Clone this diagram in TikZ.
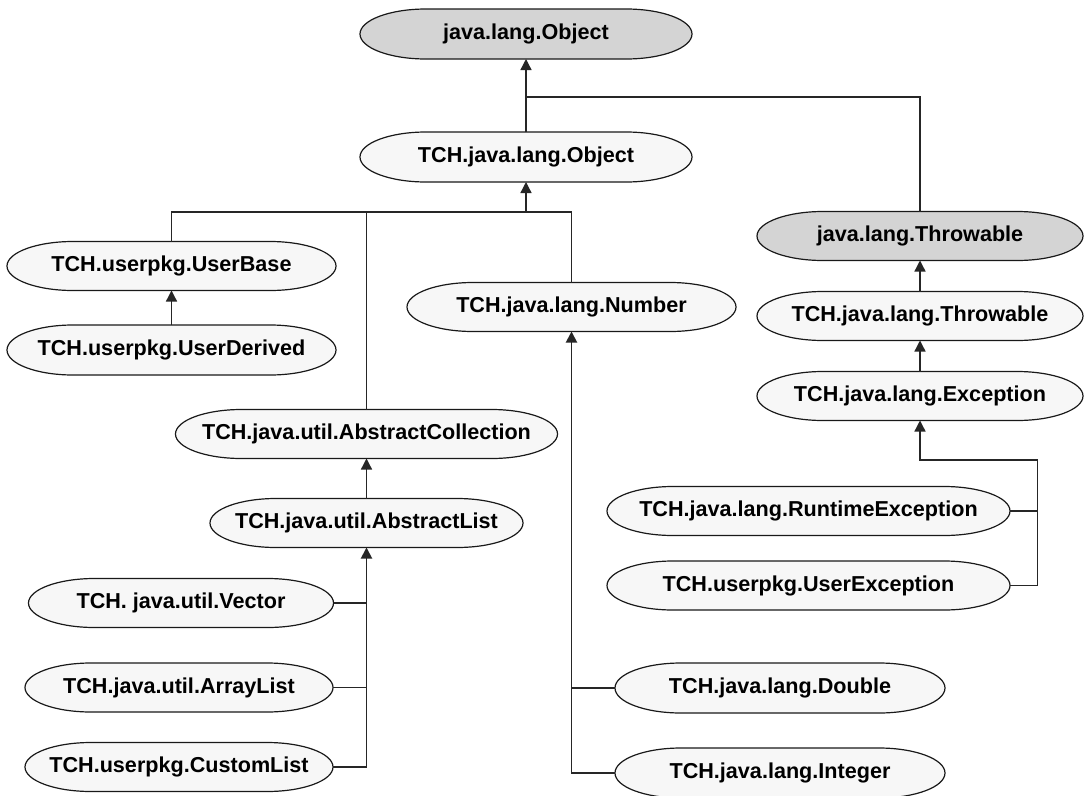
\documentclass[tikz,border=0pt]{standalone}
\usepackage{fontspec}
\setmainfont{Liberation Sans}
\usetikzlibrary{arrows.meta}

% A flat capsule: straight top and bottom edges with half-elliptical ends.
\makeatletter
\def\stadiumrx{66pt}
\pgfdeclareshape{stadium}{%
  \inheritsavedanchors[from=rectangle]%
  \inheritanchorborder[from=rectangle]%
  \inheritanchor[from=rectangle]{center}%
  \inheritanchor[from=rectangle]{north}%
  \inheritanchor[from=rectangle]{south}%
  \inheritanchor[from=rectangle]{east}%
  \inheritanchor[from=rectangle]{west}%
  \inheritanchor[from=rectangle]{north east}%
  \inheritanchor[from=rectangle]{north west}%
  \inheritanchor[from=rectangle]{south east}%
  \inheritanchor[from=rectangle]{south west}%
  \inheritanchor[from=rectangle]{text}%
  \inheritanchor[from=rectangle]{base}%
  \inheritanchor[from=rectangle]{mid}%
  \backgroundpath{%
    \southwest \edef\st@xa{\the\pgf@x}\edef\st@ya{\the\pgf@y}%
    \northeast \edef\st@xb{\the\pgf@x}\edef\st@yb{\the\pgf@y}%
    \pgf@yc=\st@yb\relax \advance\pgf@yc by -\st@ya\relax \pgf@yc=.5\pgf@yc
    \edef\st@ry{\the\pgf@yc}%
    \pgf@xc=\st@xa\relax \advance\pgf@xc by \stadiumrx\relax \edef\st@xl{\the\pgf@xc}%
    \pgf@xc=\st@xb\relax \advance\pgf@xc by -\stadiumrx\relax \edef\st@xr{\the\pgf@xc}%
    \pgfpathmoveto{\pgfqpoint{\st@xl}{\st@yb}}%
    \pgfpathlineto{\pgfqpoint{\st@xr}{\st@yb}}%
    \pgfpatharc{90}{-90}{\stadiumrx and \st@ry}%
    \pgfpathlineto{\pgfqpoint{\st@xl}{\st@ya}}%
    \pgfpatharc{270}{90}{\stadiumrx and \st@ry}%
    \pgfpathclose
  }%
}
\makeatother

\definecolor{basefill}{HTML}{D4D4D4}
\definecolor{tchfill}{HTML}{F7F7F7}
\definecolor{wire}{HTML}{262626}

\begin{document}
\begin{tikzpicture}[x=1pt,y=-1pt,
  cls/.style={shape=stadium, draw=black!90, line width=1.2pt, fill=tchfill,
    inner sep=0pt, outer sep=0pt, minimum height=49pt,
    font=\bfseries\fontsize{21.6}{24}\selectfont},
  jdk/.style={cls, fill=basefill},
  link/.style={draw=wire, line width=1.3pt},
  inh/.style={link, -{Triangle[width=11pt,length=11pt]}},
  trunk/.style={inh, line width=1.9pt},
]
\useasboundingbox (0,0) rectangle (1084,795);
\fill[white] (0,0) rectangle (1084,795);

% --- classes ---
\node[jdk, minimum width=332pt, minimum height=50pt] (jlo)  at (526,34)    {java.lang.Object};
\node[cls, minimum width=332pt, minimum height=50pt] (tjlo) at (526,157)   {TCH.java.lang.Object};
\node[jdk, minimum width=326pt] (jlt)   at (920,236)   {java.lang.Throwable};
\node[cls, minimum width=326pt] (tjlt)  at (920,316)   {TCH.java.lang.Throwable};
\node[cls, minimum width=326pt] (tjle)  at (920,396)   {TCH.java.lang.Exception};
\node[cls, minimum width=329pt] (ub)    at (171.5,266) {TCH.userpkg.UserBase};
\node[cls, minimum width=329pt, minimum height=50pt] (ud) at (171.5,350) {TCH.userpkg.UserDerived};
\node[cls, minimum width=329pt] (num)   at (571.5,307) {TCH.java.lang.Number};
\node[cls, minimum width=382pt] (acoll) at (366.5,434) {TCH.java.util.AbstractCollection};
\node[cls, minimum width=313pt] (alist) at (366.5,523) {TCH.java.util.AbstractList};
\node[cls, minimum width=403pt] (rte)   at (808.5,511) {TCH.java.lang.RuntimeException};
\node[cls, minimum width=403pt] (uex)   at (808.5,585.5) {TCH.userpkg.UserException};
\node[cls, minimum width=305pt] (vec)   at (181,603)   {TCH. java.util.Vector};
\node[cls, minimum width=308pt] (arr)   at (179,687.5) {TCH.java.util.ArrayList};
\node[cls, minimum width=308pt] (cust)  at (179,767)   {TCH.userpkg.CustomList};
\node[cls, minimum width=330pt, minimum height=50pt] (dbl) at (780,688) {TCH.java.lang.Double};
\node[cls, minimum width=330pt, minimum height=50pt] (int) at (780,773) {TCH.java.lang.Integer};

% --- junction points of the shared connectors ---
\coordinate (objbus) at (526,97);
\coordinate (tchbus) at (526,212);
\coordinate (excbus) at (1037.7,460);

% --- inheritance ---
\draw[inh] (tjlo.north) -- (jlo.south);
\draw[link] (jlt.north) |- (objbus);

\draw[inh] (tchbus) -- (tjlo.south);
\draw[link] (ub.north) |- (tchbus);
\draw[link] (num.north) |- (tchbus);
\draw[link] (acoll.north) -- (acoll.north |- tchbus);

\draw[inh] (ud.north) -- (ub.south);
\draw[inh] (alist.north) -- (acoll.south);

\draw[trunk] (cust.east) -| (alist.south);
\draw[link] (vec.east) -- (vec.east -| alist.south);
\draw[link] (arr.east) -- (arr.east -| alist.south);

\draw[trunk] (int.west) -| (num.south);
\draw[link] (dbl.west) -- (dbl.west -| num.south);

\draw[inh] (tjlt.north) -- (jlt.south);
\draw[inh] (tjle.north) -- (tjlt.south);
\draw[inh] (uex.east) -| (excbus) -| (tjle.south);
\draw[link] (rte.east) -- (rte.east -| excbus);
\end{tikzpicture}
\end{document}
